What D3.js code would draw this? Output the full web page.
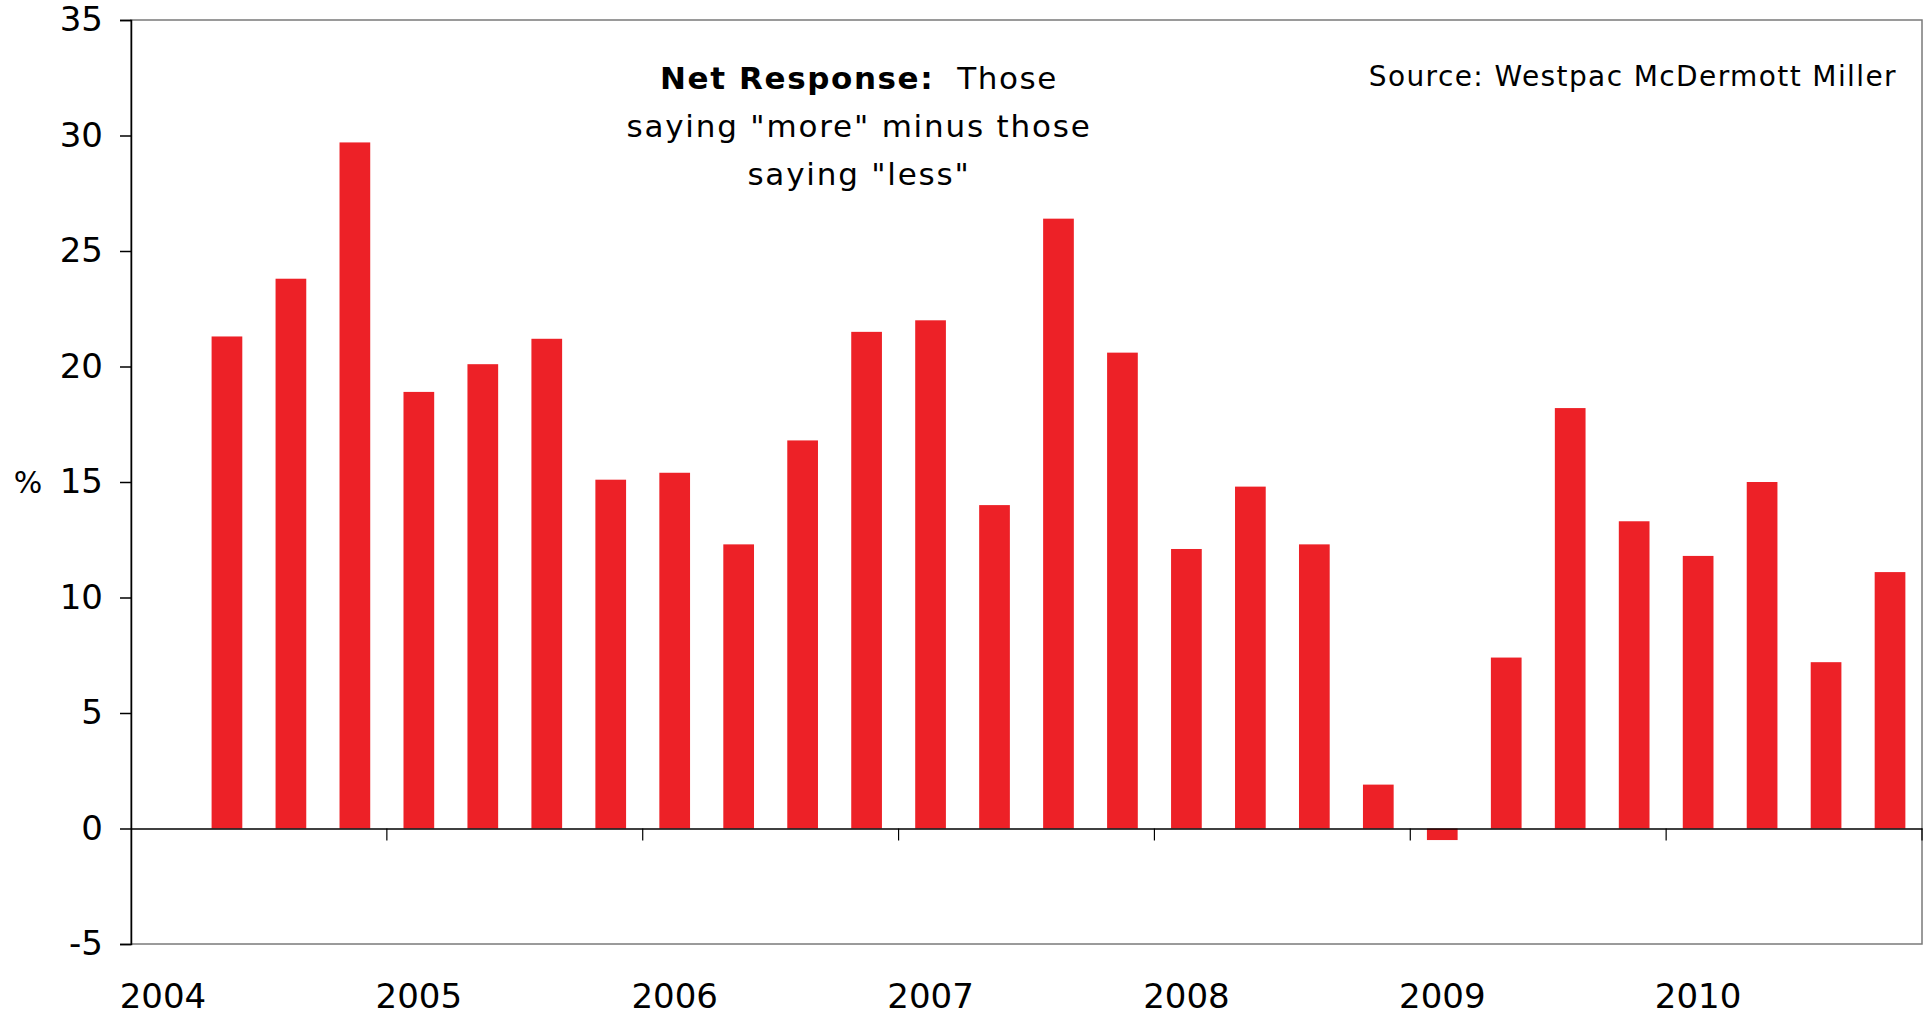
<!DOCTYPE html>
<html>
<head>
<meta charset="utf-8">
<script src="https://cdn.jsdelivr.net/npm/d3@7"></script>
<style>
  html, body { margin: 0; padding: 0; background: #fff; }
  svg { display: block; }
  text { font-family: "DejaVu Sans", Verdana, sans-serif; fill: #000; }
</style>
</head>
<body>
<svg id="chart" width="1932" height="1016"></svg>
<script>
// Quarterly periods, 2004 Q1 to 2010 Q4
const years = ["2004", "2005", "2006", "2007", "2008", "2009", "2010"];
const quarters = ["Q1", "Q2", "Q3", "Q4"];
const periods = years.flatMap(y => quarters.map(q => y + q));

// Net response (%): those saying "more" minus those saying "less"
const netResponse = [
  null, 21.3, 23.8, 29.7,
  18.9, 20.1, 21.2, 15.1,
  15.4, 12.3, 16.8, 21.5,
  22.0, 14.0, 26.4, 20.6,
  12.1, 14.8, 12.3, 1.9,
  -0.5, 7.4, 18.2, 13.3,
  11.8, 15.0, 7.2, 11.1
];

const yTicks = [-5, 0, 5, 10, 15, 20, 25, 30, 35];

const titleBold = "Net Response:";
const titleLines = ["  Those", "saying \"more\" minus those", "saying \"less\""];
const sourceNote = "Source: Westpac McDermott Miller";
const yAxisTitle = "%";

const data = periods.map((p, i) => ({ period: p, value: netResponse[i] }));

const svg = d3.select("#chart");
const margin = { left: 131, right: 10, top: 20, bottom: 72 };
const W = 1932, H = 1016;
const plotW = W - margin.left - margin.right;
const plotH = H - margin.top - margin.bottom;

const x = d3.scaleBand()
  .domain(periods)
  .range([margin.left, margin.left + plotW])
  .paddingInner(0.52)
  .paddingOuter(0.26);

// slot positions (band + gap) for tick marks at category boundaries
const slot = d3.scaleBand().domain(periods).range([margin.left, margin.left + plotW]);

const y = d3.scaleLinear().domain([-5, 35]).range([margin.top + plotH, margin.top]);

// plot area border
svg.append("rect")
  .attr("x", margin.left).attr("y", margin.top)
  .attr("width", plotW).attr("height", plotH)
  .attr("fill", "none").attr("stroke", "#7a7a7a").attr("stroke-width", 1.5);

// bars
svg.append("g").selectAll("rect")
  .data(data.filter(d => d.value !== null))
  .join("rect")
  .attr("x", d => x(d.period))
  .attr("width", x.bandwidth())
  .attr("y", d => y(Math.max(0, d.value)))
  .attr("height", d => Math.abs(y(d.value) - y(0)))
  .attr("fill", "#ed2127");

// y axis
const yAxis = d3.axisLeft(y).tickValues(yTicks).tickSize(11).tickPadding(17)
  .tickFormat(d => String(d));
const gy = svg.append("g").attr("transform", `translate(${margin.left},0)`).call(yAxis);
gy.select(".domain").attr("stroke", "#000").attr("stroke-width", 1.5);
gy.selectAll(".tick line").attr("stroke", "#000").attr("stroke-width", 1.5);
gy.selectAll(".tick text").attr("font-size", 34).attr("font-family", "DejaVu Sans");

// category axis crossing at zero, tick marks every four quarters
const xAxis = d3.axisBottom(slot)
  .tickValues(periods.filter((p, i) => i % 4 === 0))
  .tickSize(0)
  .tickFormat("");
const gx = svg.append("g").attr("transform", `translate(0,${y(0)})`).call(xAxis);
gx.select(".domain").attr("stroke", "#000").attr("stroke-width", 1.5);

const boundaries = d3.range(4, periods.length + 1, 4).map(i => margin.left + i * slot.step());
gx.selectAll("line.qtick").data(boundaries).join("line")
  .attr("class", "qtick")
  .attr("x1", d => d).attr("x2", d => d)
  .attr("y1", 0).attr("y2", 12)
  .attr("stroke", "#000").attr("stroke-width", 1.2);

// year labels below the plot area
svg.append("g").selectAll("text")
  .data(periods.filter((p, i) => i % 4 === 0))
  .join("text")
  .attr("x", d => slot(d) + slot.bandwidth() / 2)
  .attr("y", 1008)
  .attr("text-anchor", "middle")
  .attr("font-size", 34)
  .text(d => d.slice(0, 4));

// y-axis title
svg.append("text")
  .attr("x", 28).attr("y", y(15))
  .attr("dy", "0.35em")
  .attr("text-anchor", "middle")
  .attr("font-size", 30)
  .text(yAxisTitle);

// chart annotation
const cx = 859;
const t1 = svg.append("text")
  .attr("x", cx).attr("y", 89)
  .attr("text-anchor", "middle")
  .attr("font-size", 31)
  .attr("letter-spacing", 1.6);
t1.append("tspan").attr("font-weight", "bold").text(titleBold);
t1.append("tspan").style("white-space", "pre").text(titleLines[0]);
[titleLines[1], titleLines[2]].forEach((line, i) => {
  svg.append("text")
    .attr("x", cx).attr("y", 137 + i * 48)
    .attr("text-anchor", "middle")
    .attr("font-size", 31)
    .attr("letter-spacing", 1.8)
    .text(line);
});

// source note
svg.append("text")
  .attr("x", 1897).attr("y", 86)
  .attr("text-anchor", "end")
  .attr("font-size", 28)
  .attr("letter-spacing", 1.4)
  .text(sourceNote);
</script>
</body>
</html>
